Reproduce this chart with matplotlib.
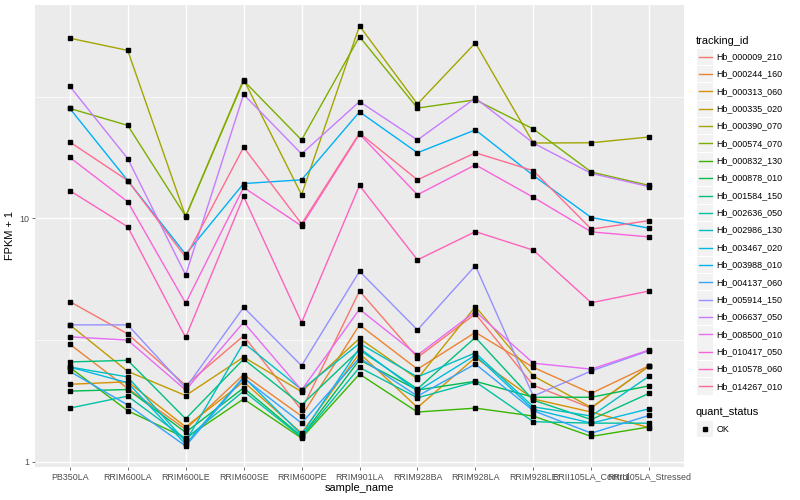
import matplotlib
matplotlib.use("Agg")
import matplotlib.pyplot as plt
from matplotlib.lines import Line2D
from matplotlib.patches import Rectangle

plt.rcParams['font.family'] = ['Liberation Sans', 'DejaVu Sans']

# Echantillons (axe x)
sample_names = ["PB350LA", "RRIM600LA", "RRIM600LE", "RRIM600SE", "RRIM600PE",
                "RRIM901LA", "RRIM928BA", "RRIM928LA", "RRIM928LE",
                "RRII105LA_Control", "RRII105LA_Stressed"]

tracking_ids = ["Hb_000009_210", "Hb_000244_160", "Hb_000313_060", "Hb_000335_020",
                "Hb_000390_070", "Hb_000574_070", "Hb_000832_130", "Hb_000878_010",
                "Hb_001584_150", "Hb_002636_050", "Hb_002986_130", "Hb_003467_020",
                "Hb_003988_010", "Hb_004137_060", "Hb_005914_150", "Hb_006637_050",
                "Hb_008500_010", "Hb_010417_050", "Hb_010578_060", "Hb_014267_010"]

# palette ggplot (hue_pal, 20 couleurs)
colors = ["#F8766D", "#EA8331", "#D89000", "#C09B00", "#A3A500", "#7CAE00",
          "#39B600", "#00BB4E", "#00BF7D", "#00C1A3", "#00BFC4", "#00BAE0",
          "#00B0F6", "#35A2FF", "#9590FF", "#C77CFF", "#E76BF3", "#FA62DB",
          "#FF62BC", "#FF6C91"]

# FPKM + 1
hb_000009_210 = [4.55, 3.35, 2.06, 3.29, 1.63, 5.03, 2.68, 4.05, 2.06, 1.66, 2.48]
hb_000244_160 = [3.04, 2.00, 1.36, 2.28, 1.54, 3.65, 2.40, 3.40, 2.44, 1.91, 2.48]
hb_000313_060 = [2.08, 2.13, 1.39, 2.13, 1.31, 2.79, 1.67, 2.68, 1.81, 1.60, 1.38]
hb_000335_020 = [3.65, 2.35, 1.87, 2.69, 1.94, 3.21, 2.19, 4.34, 2.25, 1.67, 2.47]
hb_000390_070 = [55.0, 49.0, 10.17, 37.2, 12.5, 61.8, 29.5, 52.6, 20.4, 20.45, 21.6]
hb_000574_070 = [28.3, 24.1, 10.2, 36.8, 21.0, 55.8, 28.4, 30.7, 23.3, 15.5, 13.65]
hb_000832_130 = [2.44, 1.62, 1.25, 1.81, 1.25, 2.29, 1.60, 1.66, 1.54, 1.27, 1.39]
hb_000878_010 = [1.95, 1.98, 1.32, 2.01, 1.27, 2.62, 1.97, 2.14, 1.84, 1.84, 2.05]
hb_001584_150 = [2.57, 2.61, 1.50, 2.64, 1.71, 2.88, 1.99, 3.24, 1.79, 1.49, 1.91]
hb_002636_050 = [1.66, 1.86, 1.24, 1.95, 1.26, 2.44, 1.83, 2.13, 1.46, 1.44, 1.44]
hb_002986_130 = [2.45, 2.23, 1.21, 3.08, 1.98, 3.06, 2.23, 2.80, 1.68, 1.54, 2.25]
hb_003467_020 = [2.45, 2.11, 1.18, 2.23, 1.29, 2.93, 1.95, 2.74, 1.64, 1.44, 1.65]
hb_003988_010 = [28.3, 14.3, 7.12, 13.9, 14.4, 27.4, 18.6, 23.1, 15.0, 10.08, 9.11]
hb_004137_060 = [2.35, 1.71, 1.16, 2.21, 1.44, 2.67, 1.86, 2.52, 1.62, 1.31, 1.55]
hb_005914_150 = [3.65, 3.65, 2.01, 4.31, 2.48, 6.06, 3.48, 6.39, 1.86, 2.36, 2.86]
hb_006637_050 = [34.9, 17.6, 5.85, 32.3, 18.4, 30.2, 21.0, 31.2, 20.4, 15.3, 13.5]
hb_008500_010 = [3.26, 3.16, 1.97, 3.74, 1.97, 4.23, 2.74, 4.14, 2.54, 2.40, 2.88]
hb_010417_050 = [17.8, 11.7, 4.48, 13.4, 9.31, 22.2, 12.5, 16.6, 12.2, 8.80, 8.39]
hb_010578_060 = [13.0, 9.23, 3.24, 12.3, 3.73, 13.65, 6.75, 8.82, 7.40, 4.50, 5.03]
hb_014267_010 = [20.6, 14.3, 6.92, 19.6, 9.49, 22.4, 14.4, 18.6, 15.7, 9.03, 9.79]

series = [hb_000009_210, hb_000244_160, hb_000313_060, hb_000335_020, hb_000390_070,
          hb_000574_070, hb_000832_130, hb_000878_010, hb_001584_150, hb_002636_050,
          hb_002986_130, hb_003467_020, hb_003988_010, hb_004137_060, hb_005914_150,
          hb_006637_050, hb_008500_010, hb_010417_050, hb_010578_060, hb_014267_010]

W, H = 800, 500
fig = plt.figure(figsize=(W / 100, H / 100), dpi=100)
fig.patch.set_facecolor("white")

# zone du panneau en pixels : x 35-684, y 5-467
ax = fig.add_axes([35 / W, 1 - 467 / H, 649 / W, 462 / H])
ax.set_facecolor("#EBEBEB")

x = list(range(len(sample_names)))

# lignes puis points (comme geom_line + geom_point)
for vals, col in zip(series, colors):
    ax.plot(x, vals, color=col, linewidth=1.0, zorder=3, solid_capstyle="butt")
for vals in series:
    ax.plot(x, vals, linestyle="none", marker="s", markersize=2.6,
            color="black", zorder=4)

ax.set_yscale("log")
ax.set_ylim(0.951, 75.3)
ax.set_xlim(-0.6, len(sample_names) - 0.4)

ax.set_yticks([1, 10])
ax.set_yticklabels(["1", "10"])
ax.set_yticks([10 ** 0.5, 10 ** 1.5], minor=True)
ax.yaxis.set_minor_formatter(plt.NullFormatter())
ax.set_xticks(x)
ax.set_xticklabels(sample_names)

# grille blanche style ggplot
ax.grid(True, which="major", color="white", linewidth=1.0, zorder=0)
ax.grid(True, which="minor", axis="y", color="white", linewidth=0.5, zorder=0)
ax.set_axisbelow(True)
for s in ax.spines.values():
    s.set_visible(False)

ax.tick_params(axis="both", which="major", length=2.5, width=0.5, color="#333333",
               labelsize=6.4, labelcolor="#4D4D4D", pad=1.5)
ax.tick_params(axis="y", which="minor", length=0)

ax.set_xlabel("sample_name", fontsize=7.9, color="black", labelpad=1)
ax.set_ylabel("FPKM + 1", fontsize=7.9, color="black", labelpad=3)


# Légende dessinée à la main (coordonnées pixels -> figure)
def fx(px):
    return px / W


def fy(py):
    return 1 - py / H


fig.text(fx(696), fy(40.7), "tracking_id", fontsize=7.9, va="center", ha="left")
step = 17.35
for i, (tid, col) in enumerate(zip(tracking_ids, colors)):
    yc = 56.7 + i * step
    fig.add_artist(Rectangle((fx(697), fy(yc + 8.2)), 16 / W, 16.4 / H,
                             transform=fig.transFigure, facecolor="#F2F2F2",
                             edgecolor="none"))
    fig.add_artist(Line2D([fx(698.5), fx(711.5)], [fy(yc), fy(yc)],
                          transform=fig.transFigure, color=col, linewidth=1.0))
    fig.text(fx(716.5), fy(yc), tid, fontsize=6.4, va="center", ha="left")

fig.text(fx(696), fy(412.3), "quant_status", fontsize=7.9, va="center", ha="left")
fig.add_artist(Rectangle((fx(697), fy(429 + 8.2)), 16 / W, 16.4 / H,
                         transform=fig.transFigure, facecolor="#F2F2F2",
                         edgecolor="none"))
fig.add_artist(Line2D([fx(705)], [fy(429)], transform=fig.transFigure,
                      linestyle="none", marker="s", markersize=2.6, color="black"))
fig.text(fx(716.5), fy(429), "OK", fontsize=6.4, va="center", ha="left")

fig.savefig("out.png", dpi=100)
plt.close(fig)
